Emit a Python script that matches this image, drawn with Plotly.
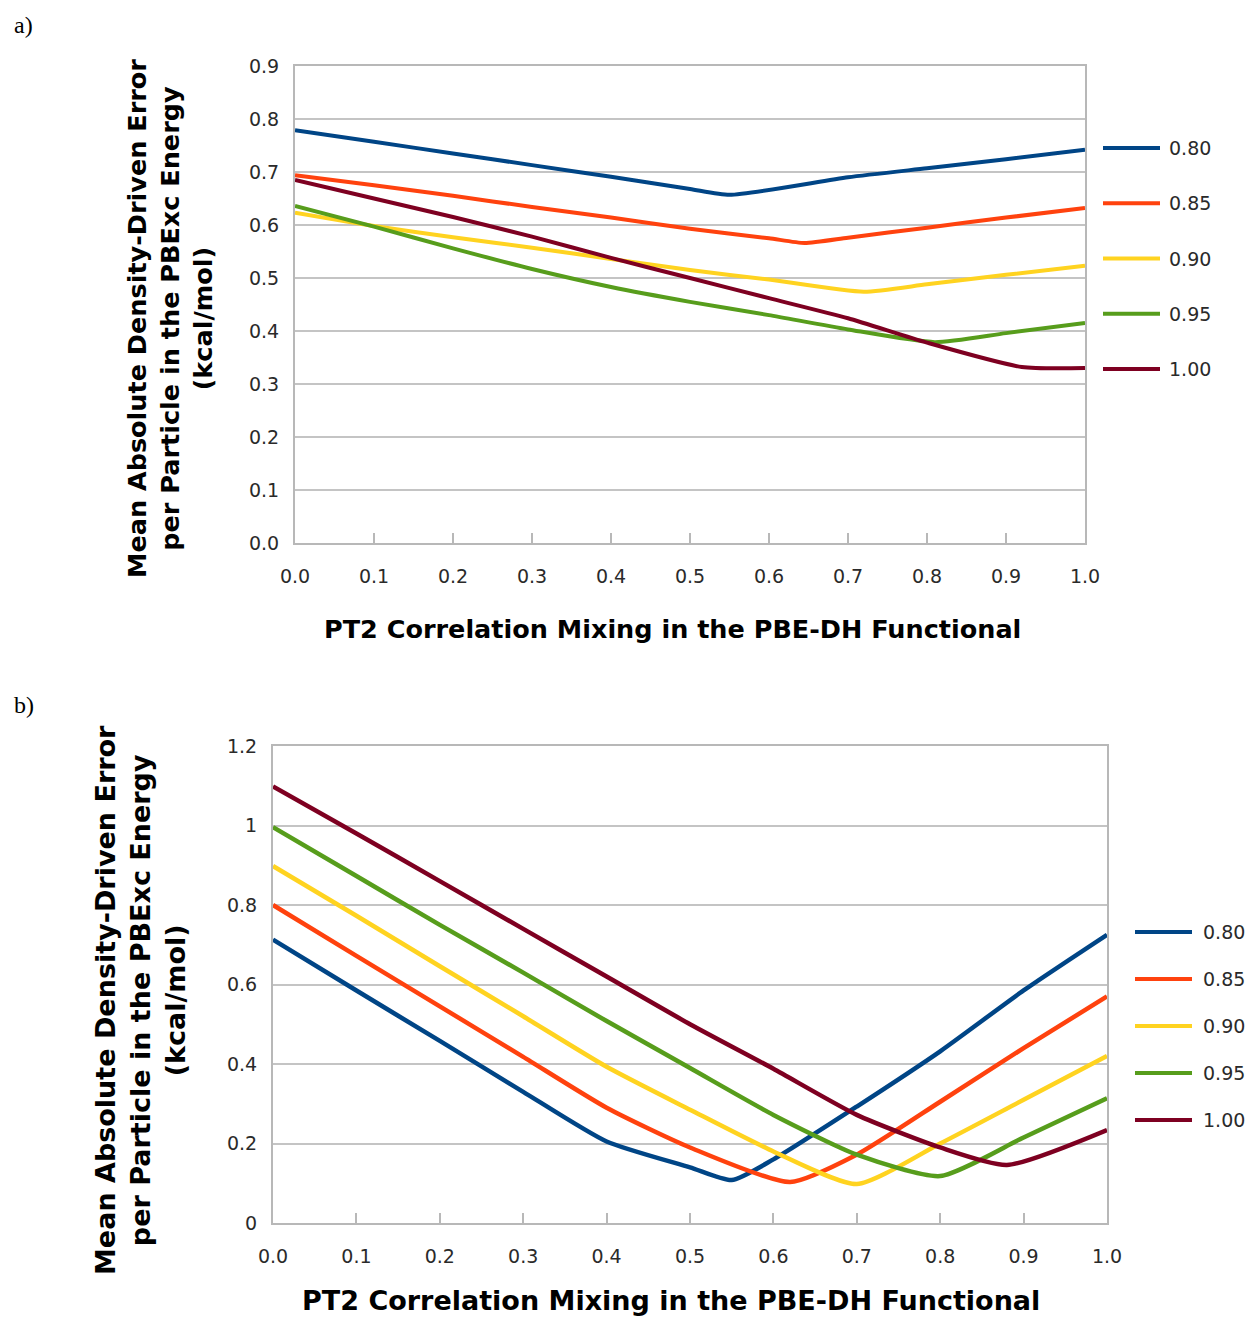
import plotly.graph_objects as go

# The page body has an 8px margin, so the figure is sized to fit the window exactly
OFF = 8
W, H = 1254 - 2 * OFF, 1327 - 2 * OFF

series_names = ["0.80", "0.85", "0.90", "0.95", "1.00"]
colors = ["#004586", "#ff420e", "#ffd320", "#579d1c", "#7e0021"]

x_title = "PT2 Correlation Mixing in the PBE-DH Functional"
y_title = "Mean Absolute Density-Driven Error<br>per Particle in the PBExc Energy<br>(kcal/mol)"

x_ticks = [0.0, 0.1, 0.2, 0.3, 0.4, 0.5, 0.6, 0.7, 0.8, 0.9, 1.0]
x_ticktext = ["0.0", "0.1", "0.2", "0.3", "0.4", "0.5", "0.6", "0.7", "0.8", "0.9", "1.0"]
a_y_ticks = [0.0, 0.1, 0.2, 0.3, 0.4, 0.5, 0.6, 0.7, 0.8, 0.9]
a_y_ticktext = ["0.0", "0.1", "0.2", "0.3", "0.4", "0.5", "0.6", "0.7", "0.8", "0.9"]
b_y_ticks = [0.0, 0.2, 0.4, 0.6, 0.8, 1.0, 1.2]
b_y_ticktext = ["0", "0.2", "0.4", "0.6", "0.8", "1", "1.2"]

# ---- panel a data ----
a_x_080 = [0, 0.1, 0.2, 0.3, 0.4, 0.5, 0.55, 0.7, 0.8, 0.9, 1.0]
a_y_080 = [0.779, 0.757, 0.735, 0.713, 0.691, 0.668, 0.657, 0.690, 0.707, 0.724, 0.742]
a_x_085 = [0, 0.1, 0.2, 0.3, 0.4, 0.5, 0.6, 0.645, 0.7, 0.8, 0.9, 1.0]
a_y_085 = [0.694, 0.675, 0.655, 0.634, 0.614, 0.593, 0.575, 0.566, 0.576, 0.595, 0.614, 0.632]
a_x_090 = [0, 0.1, 0.2, 0.3, 0.4, 0.5, 0.6, 0.72, 0.8, 0.9, 1.0]
a_y_090 = [0.623, 0.598, 0.577, 0.557, 0.536, 0.515, 0.497, 0.474, 0.488, 0.506, 0.523]
a_x_095 = [0, 0.1, 0.2, 0.3, 0.4, 0.5, 0.6, 0.7, 0.81, 0.9, 1.0]
a_y_095 = [0.636, 0.597, 0.556, 0.517, 0.483, 0.455, 0.430, 0.403, 0.379, 0.396, 0.415]
a_x_100 = [0, 0.1, 0.2, 0.3, 0.4, 0.5, 0.6, 0.7, 0.8, 0.92, 1.0]
a_y_100 = [0.685, 0.650, 0.615, 0.578, 0.538, 0.500, 0.462, 0.424, 0.378, 0.332, 0.330]

# ---- panel b data ----
b_x_080 = [0, 0.1, 0.2, 0.3, 0.4, 0.5, 0.55, 0.6, 0.7, 0.8, 0.9, 1.0]
b_y_080 = [0.713, 0.585, 0.458, 0.330, 0.205, 0.140, 0.108, 0.160, 0.293, 0.432, 0.585, 0.725]
b_x_085 = [0, 0.1, 0.2, 0.3, 0.4, 0.5, 0.62, 0.7, 0.8, 0.9, 1.0]
b_y_085 = [0.800, 0.672, 0.545, 0.418, 0.290, 0.190, 0.103, 0.172, 0.305, 0.440, 0.570]
b_x_090 = [0, 0.1, 0.2, 0.3, 0.4, 0.5, 0.6, 0.7, 0.8, 0.9, 1.0]
b_y_090 = [0.898, 0.773, 0.646, 0.520, 0.393, 0.285, 0.180, 0.098, 0.200, 0.310, 0.420]
b_x_095 = [0, 0.1, 0.2, 0.3, 0.4, 0.5, 0.6, 0.7, 0.8, 0.9, 1.0]
b_y_095 = [0.996, 0.873, 0.750, 0.630, 0.508, 0.390, 0.272, 0.172, 0.118, 0.215, 0.314]
b_x_100 = [0, 0.1, 0.2, 0.3, 0.4, 0.5, 0.6, 0.7, 0.8, 0.88, 1.0]
b_y_100 = [1.098, 0.980, 0.860, 0.740, 0.620, 0.500, 0.388, 0.272, 0.190, 0.146, 0.234]

panel_a = [(a_x_080, a_y_080), (a_x_085, a_y_085), (a_x_090, a_y_090), (a_x_095, a_y_095), (a_x_100, a_y_100)]
panel_b = [(b_x_080, b_y_080), (b_x_085, b_y_085), (b_x_090, b_y_090), (b_x_095, b_y_095), (b_x_100, b_y_100)]


def px(x):
    return (x - OFF) / W


def py(y):
    return 1 - (y - OFF) / H


fig = go.Figure()
for (xs, ys), name, c in zip(panel_a, series_names, colors):
    fig.add_trace(go.Scatter(x=xs, y=ys, name=name, mode="lines", xaxis="x", yaxis="y",
                             line=dict(color=c, width=4, shape="spline", smoothing=0.6),
                             showlegend=False))
for (xs, ys), name, c in zip(panel_b, series_names, colors):
    fig.add_trace(go.Scatter(x=xs, y=ys, name=name, mode="lines", xaxis="x2", yaxis="y2",
                             line=dict(color=c, width=4.5, shape="spline", smoothing=0.6),
                             showlegend=False))

grid_c = "#c4c4c4"
axis_c = "#b8b8b8"
tick_font = dict(family="DejaVu Sans", size=19, color="#2a2a2a")

common_x = dict(range=[0, 1], tickvals=x_ticks, ticktext=x_ticktext, showgrid=False,
                zeroline=False, showline=True, linecolor=axis_c, linewidth=2, mirror=True,
                ticks="inside", ticklen=10, tickcolor=axis_c, tickwidth=1.5,
                tickfont=tick_font, ticklabelstandoff=15, automargin=False)
common_y = dict(showgrid=True, gridcolor=grid_c, gridwidth=2, zeroline=False,
                showline=True, linecolor=axis_c, linewidth=2, mirror=True,
                ticks="", tickfont=tick_font, ticklabelstandoff=10, automargin=False)

fig.update_layout(
    width=W, height=H,
    autosize=False,
    margin=dict(l=0, r=0, t=0, b=0, pad=0, autoexpand=False),
    paper_bgcolor="white", plot_bgcolor="white",
    showlegend=False,
    xaxis=dict(domain=[px(295), px(1085)], anchor="y", **common_x),
    yaxis=dict(domain=[py(543), py(66)], anchor="x", range=[0, 0.9],
               tickvals=a_y_ticks, ticktext=a_y_ticktext, **common_y),
    xaxis2=dict(domain=[px(273), px(1107)], anchor="y2", **common_x),
    yaxis2=dict(domain=[py(1223), py(746)], anchor="x2", range=[0, 1.2],
                tickvals=b_y_ticks, ticktext=b_y_ticktext, **common_y),
)

title_font_a = dict(family="DejaVu Sans", size=25.5, color="black", weight="bold")
title_font_b = dict(family="DejaVu Sans", size=27, color="black", weight="bold")

ann = []
# panel labels
ann.append(dict(text="a)", x=px(12), y=py(25), xref="paper", yref="paper", xanchor="left",
                yanchor="middle", showarrow=False,
                font=dict(family="Liberation Serif", size=24, color="black")))
ann.append(dict(text="b)", x=px(12), y=py(705), xref="paper", yref="paper", xanchor="left",
                yanchor="middle", showarrow=False,
                font=dict(family="Liberation Serif", size=24, color="black")))
# axis titles
ann.append(dict(text=x_title, x=px(672), y=py(629), xref="paper", yref="paper",
                xanchor="center", yanchor="middle", showarrow=False, font=title_font_a))
ann.append(dict(text=x_title, x=px(671), y=py(1318), xref="paper", yref="paper",
                xanchor="center", yanchor="bottom", showarrow=False, font=title_font_b))
ann.append(dict(text=y_title, x=px(170), y=py(319), xref="paper", yref="paper",
                xanchor="center", yanchor="middle", textangle=-90, showarrow=False,
                font=title_font_a))
ann.append(dict(text=y_title, x=px(140), y=py(1000), xref="paper", yref="paper",
                xanchor="center", yanchor="middle", textangle=-90, showarrow=False,
                font=title_font_b))

# custom legends
shapes = []
leg_font = dict(family="DejaVu Sans", size=19, color="#2a2a2a")
for i, (name, c) in enumerate(zip(series_names, colors)):
    ya = 148 + i * 55.25
    shapes.append(dict(type="line", xref="paper", yref="paper", x0=px(1103), x1=px(1160),
                       y0=py(ya), y1=py(ya), line=dict(color=c, width=4)))
    ann.append(dict(text=name, x=px(1167), y=py(ya), xref="paper", yref="paper",
                    xanchor="left", yanchor="middle", showarrow=False, font=leg_font))
    yb = 932 + i * 47
    shapes.append(dict(type="line", xref="paper", yref="paper", x0=px(1135), x1=px(1192),
                       y0=py(yb), y1=py(yb), line=dict(color=c, width=4)))
    ann.append(dict(text=name, x=px(1201), y=py(yb), xref="paper", yref="paper",
                    xanchor="left", yanchor="middle", showarrow=False, font=leg_font))

fig.update_layout(annotations=ann, shapes=shapes)

fig.write_html("out.html")
